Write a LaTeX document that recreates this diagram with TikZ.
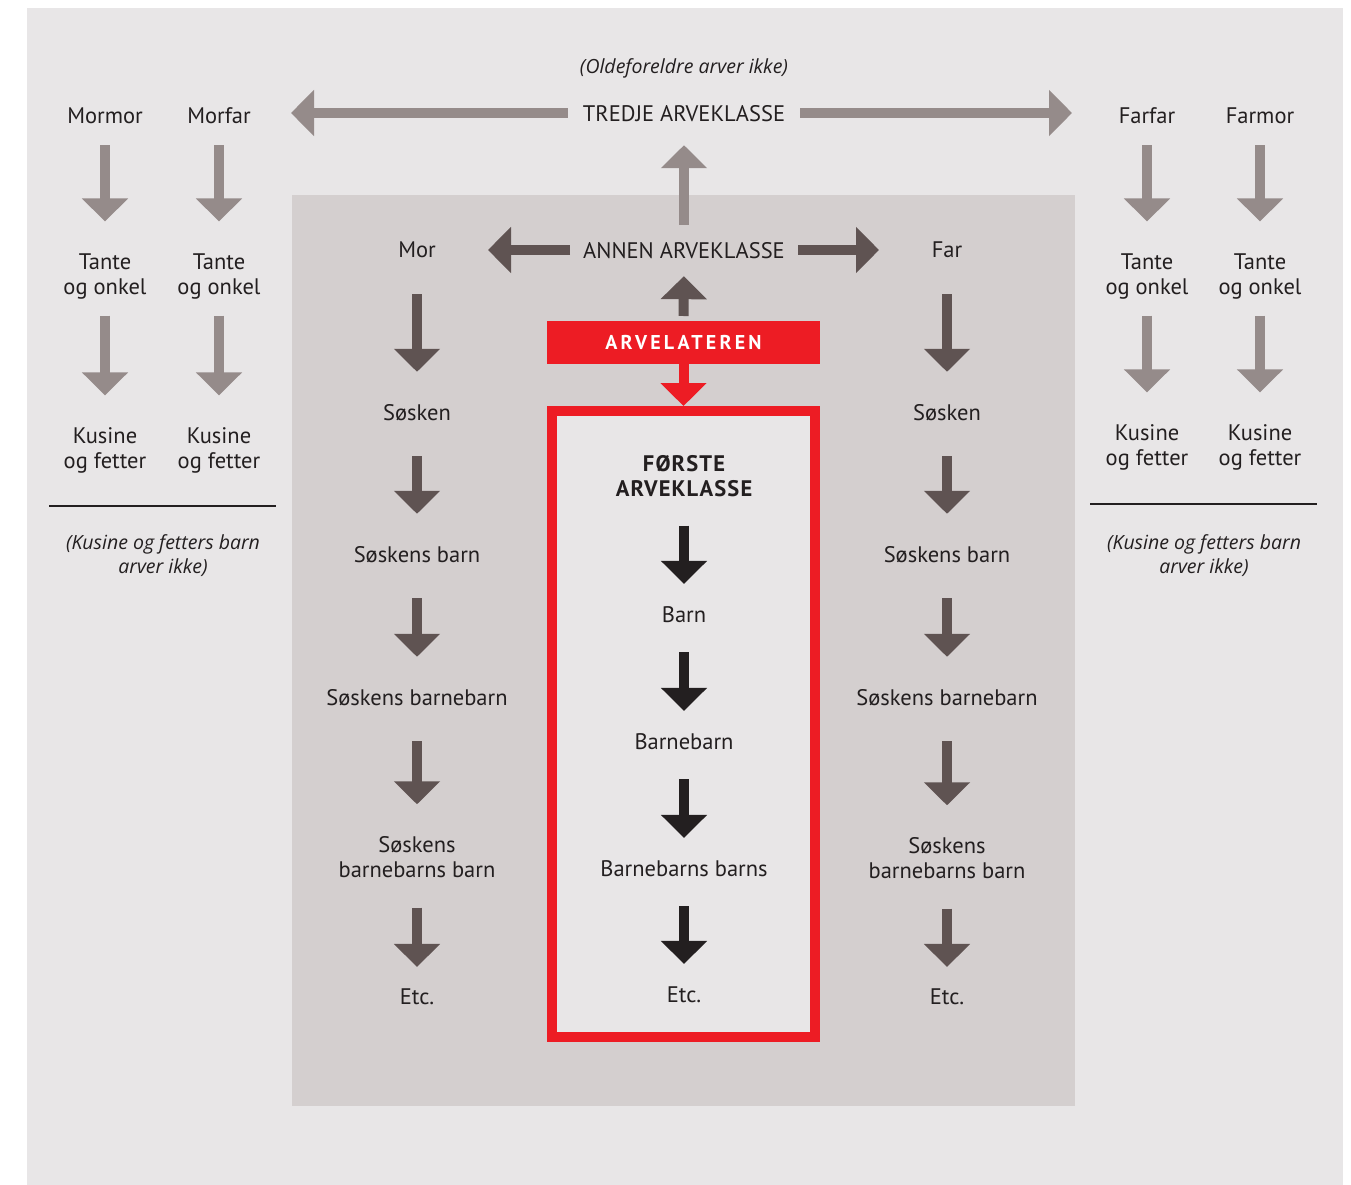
\documentclass[tikz,border=0pt]{standalone}
\usepackage{fontspec}
\setmainfont{PT Sans}
\newfontfamily\notefont{Open Sans}
\usetikzlibrary{arrows.meta}

\definecolor{bgouter}{HTML}{E8E6E7}
\definecolor{bginner}{HTML}{D4CFCF}
\definecolor{lightarr}{HTML}{958B8A}
\definecolor{darkarr}{HTML}{5F5352}
\definecolor{inkblack}{HTML}{231F20}
\definecolor{arvred}{HTML}{ED1C24}

\tikzstyle{kin} = [inner sep=0pt, text depth=0pt, align=center,
text=inkblack,
font=\fontsize{22.5}{25}\selectfont]
\tikzstyle{note} = [inner sep=0pt, text depth=0pt, align=center,
text=inkblack,
font=\notefont\fontsize{19.5}{24}\selectfont\itshape]
\tikzstyle{firsthead} = [kin,
font=\fontsize{22.5}{25}\selectfont\bfseries\addfontfeature{LetterSpace=5}]
\tikzstyle{arvbox} = [rectangle, fill=arvred,
minimum width=273pt,
minimum height=43pt,
inner sep=0pt, outer sep=0pt,
text=white,
font=\fontsize{20}{24}\selectfont\bfseries\addfontfeature{LetterSpace=16}]
\tikzstyle{redframe} = [rectangle, draw=arvred, line width=10pt,
fill=bgouter,
minimum width=263pt,
minimum height=626pt]
\tikzstyle{grayarrow} = [draw=lightarr, line width=10pt,
-{Triangle[width=45pt,length=23pt]},
shorten <=21pt, shorten >=32pt]
\tikzstyle{darkarrow} = [draw=darkarr, line width=10pt,
-{Triangle[width=45pt,length=23pt]},
shorten <=36pt, shorten >=32pt]
\tikzstyle{blackarrow} = [draw=inkblack, line width=10.5pt,
-{Triangle[width=45pt,length=23pt]},
shorten <=29pt, shorten >=23pt]
\tikzstyle{redarrow} = [draw=arvred, line width=10pt,
-{Triangle[width=45pt,length=23pt]}]

\begin{document}
\begin{tikzpicture}[x=1pt, y=-1pt]
\def\mx{417}
\def\cx{684}
\def\fx{947}

\useasboundingbox (0,0) rectangle (1351,1185);
\fill[bgouter] (27,8) rectangle (1343,1185);
\fill[bginner] (292,195) rectangle (1075,1106);

% classes
\node (olde) [note] at (\cx,66) {(Oldeforeldre arver ikke)};
\node (tredje) [kin] at (\cx,113) {TREDJE ARVEKLASSE};
\node (annen) [kin] at (\cx,250) {ANNEN ARVEKLASSE};
\node (arv) [arvbox] at (683.5,342.5) {ARVELATEREN};
\node (firstbox) [redframe] at (683.5,724) {};

\coordinate (tleft) at (291,113);
\coordinate (tright) at (1072,113);
\coordinate (aleft) at (488,250);
\coordinate (aright) at (879,250);

% mother's side
\node (mormor) [kin] at (105,116) {Mormor};
\node (morfar) [kin] at (219,116) {Morfar};
\node (tante1) [kin] at (105,274) {Tante\\ og onkel};
\node (tante2) [kin] at (219,274) {Tante\\ og onkel};
\node (kusine1) [kin] at (105,448) {Kusine\\ og fetter};
\node (kusine2) [kin] at (219,448) {Kusine\\ og fetter};
\node (noteleft) [note] at (163,554) {(Kusine og fetters barn\\ arver ikke)};

% father's side
\node (farfar) [kin] at (1147,116) {Farfar};
\node (farmor) [kin] at (1260,116) {Farmor};
\node (tante3) [kin] at (1147,274) {Tante\\ og onkel};
\node (tante4) [kin] at (1260,274) {Tante\\ og onkel};
\node (kusine3) [kin] at (1147,445) {Kusine\\ og fetter};
\node (kusine4) [kin] at (1260,445) {Kusine\\ og fetter};
\node (noteright) [note] at (1204,554) {(Kusine og fetters barn\\ arver ikke)};

% mor
\node (mor) [kin] at (\mx,250) {Mor};
\node (msosken) [kin] at (\mx,412) {Søsken};
\node (mbarn) [kin] at (\mx,554) {Søskens barn};
\node (mbb) [kin] at (\mx,697) {Søskens barnebarn};
\node (mbbb) [kin] at (\mx,857) {Søskens\\ barnebarns barn};
\node (metc) [kin] at (\mx,997) {Etc.};

% far
\node (far) [kin] at (\fx,250) {Far};
\node (fsosken) [kin] at (\fx,412) {Søsken};
\node (fbarn) [kin] at (\fx,554) {Søskens barn};
\node (fbb) [kin] at (\fx,697) {Søskens barnebarn};
\node (fbbb) [kin] at (\fx,858) {Søskens\\ barnebarns barn};
\node (fetc) [kin] at (\fx,997) {Etc.};

% forste arveklasse
\node (forste) [firsthead] at (\cx,476) {FØRSTE\\ ARVEKLASSE};
\node (barn) [kin] at (\cx,615) {Barn};
\node (barnebarn) [kin] at (\cx,742) {Barnebarn};
\node (bbarns) [kin] at (\cx,869) {Barnebarns barns};
\node (cetc) [kin] at (\cx,995) {Etc.};

\draw [inkblack, line width=2pt] (49,506) -- (276,506);
\draw [inkblack, line width=2pt] (1090,504) -- (1317,504);

\draw [grayarrow, shorten <=15pt, shorten >=0pt] (tredje) -- (tleft);
\draw [grayarrow, shorten <=15pt, shorten >=0pt] (tredje) -- (tright);
\draw [grayarrow, shorten <=17pt, shorten >=24pt] (annen) -- (tredje);
\draw [darkarrow, shorten <=13pt, shorten >=0pt] (annen) -- (aleft);
\draw [darkarrow, shorten <=13pt, shorten >=0pt] (annen) -- (aright);
\draw [darkarrow, shorten <=5pt, shorten >=18pt] (arv) -- (annen);
\draw [redarrow] (arv) -- (firstbox);

\draw [grayarrow] (mormor) -- (tante1);
\draw [grayarrow] (morfar) -- (tante2);
\draw [grayarrow] (tante1) -- (kusine1);
\draw [grayarrow] (tante2) -- (kusine2);
\draw [grayarrow] (farfar) -- (tante3);
\draw [grayarrow] (farmor) -- (tante4);
\draw [grayarrow] (tante3) -- (kusine3);
\draw [grayarrow] (tante4) -- (kusine4);

\draw [darkarrow] (mor) -- (msosken);
\draw [darkarrow] (msosken) -- (mbarn);
\draw [darkarrow] (mbarn) -- (mbb);
\draw [darkarrow] (mbb) -- (mbbb);
\draw [darkarrow, shorten <=30pt, shorten >=22pt] (mbbb) -- (metc);

\draw [darkarrow] (far) -- (fsosken);
\draw [darkarrow] (fsosken) -- (fbarn);
\draw [darkarrow] (fbarn) -- (fbb);
\draw [darkarrow] (fbb) -- (fbbb);
\draw [darkarrow, shorten <=30pt, shorten >=22pt] (fbbb) -- (fetc);

\draw [blackarrow] (forste) -- (barn);
\draw [blackarrow] (barn) -- (barnebarn);
\draw [blackarrow] (barnebarn) -- (bbarns);
\draw [blackarrow] (bbarns) -- (cetc);

\end{tikzpicture}
\end{document}
